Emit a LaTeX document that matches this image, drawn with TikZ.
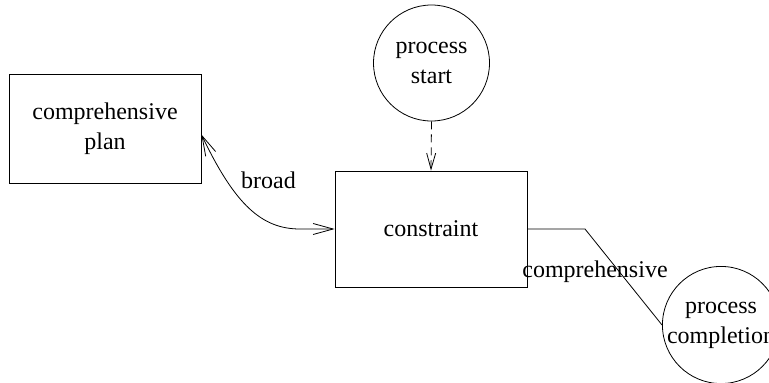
\documentclass[tikz,border=0pt]{standalone}
\usepackage{fontspec}
\setmainfont{Liberation Serif}
\usetikzlibrary{arrows.meta}
\begin{document}
\begin{tikzpicture}[x=1pt,y=-1pt,line width=0.8pt,
  every node/.style={font=\fontsize{24}{30}\selectfont},
  boxnode/.style={draw,rectangle,align=center,inner sep=0pt},
  circnode/.style={draw,circle,align=center,inner sep=0pt,minimum size=116pt},
  lbl/.style={inner sep=0pt},
  tipbig/.style={-{Straight Barb[length=20pt,width=11pt,line width=0.8pt]}},
  bothbig/.style={{Straight Barb[length=20pt,width=11pt,line width=0.8pt]}-{Straight Barb[length=20pt,width=11pt,line width=0.8pt]}}]
\useasboundingbox (0,0) rectangle (769,383);
\node[boxnode,minimum width=192pt,minimum height=109pt] (plan) at (105,128.5) {comprehensive\\plan};
\node[boxnode,minimum width=192pt,minimum height=116pt] (constraint) at (431,229) {constraint};
\node[circnode] (start) at (431.5,63) {process\\start};
\node[circnode] (completion) at (721,325) {process\\completion};
\coordinate (bend) at (585,229);
\coordinate (cv) at (300,229);
\draw[bothbig] ([yshift=-6pt]plan.east) .. controls (235,205) and (262,229) .. (cv) -- (constraint.west);
\draw[dashed,dash pattern=on 8pt off 5pt,-{Straight Barb[length=16pt,width=9pt,line width=0.8pt]}] (start.south) -- (constraint.north);
\draw (constraint.east) -- (bend) -- (completion.west);
\node[lbl] (broadlbl) at (268.5,180) {broad};
\node[lbl] (complbl) at (595,272) {comprehensive};
\end{tikzpicture}
\end{document}
